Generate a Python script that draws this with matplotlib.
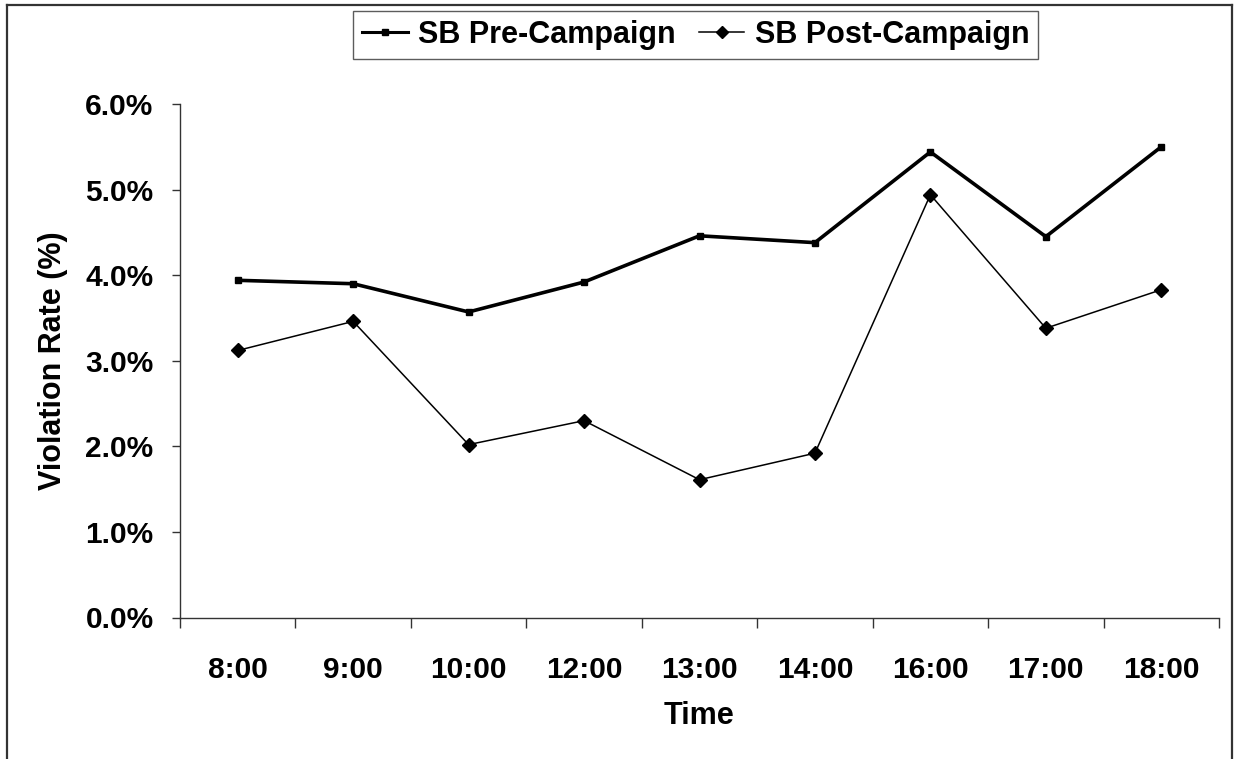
import matplotlib
matplotlib.use("Agg")
import matplotlib.pyplot as plt
from matplotlib.lines import Line2D
from matplotlib.ticker import FixedLocator, FuncFormatter

plt.rcParams['font.family'] = ['Liberation Sans', 'DejaVu Sans']
plt.rcParams['font.weight'] = 'bold'

# Data: seat-belt violation rate (%) by time of day
times = ["8:00", "9:00", "10:00", "12:00", "13:00", "14:00", "16:00", "17:00", "18:00"]
pre_campaign = [3.94, 3.90, 3.57, 3.92, 4.46, 4.38, 5.44, 4.45, 5.50]
post_campaign = [3.12, 3.46, 2.02, 2.30, 1.61, 1.92, 4.94, 3.38, 3.83]
series_names = ["SB Pre-Campaign", "SB Post-Campaign"]
y_ticks = [0, 1, 2, 3, 4, 5, 6]

W, H = 1235, 759
fig = plt.figure(figsize=(W / 100, H / 100), dpi=100)
fig.patch.set_facecolor('white')

ax = fig.add_axes([180 / W, 1 - 617.5 / H, (1219 - 180) / W, (617.5 - 104) / H])

x = list(range(len(times)))
ax.plot(x, pre_campaign, color='black', lw=2.6, marker='s', ms=4.8,
        markerfacecolor='black', markeredgecolor='black', solid_joinstyle='miter')
ax.plot(x, post_campaign, color='black', lw=1.1, marker='D', ms=7.5,
        markerfacecolor='black', markeredgecolor='black')

ax.set_xlim(-0.5, len(times) - 0.5)
ax.set_ylim(0, 6)

# category labels at centres, tick marks on the boundaries between categories
ax.xaxis.set_major_locator(FixedLocator(x))
ax.set_xticklabels(times, fontsize=21.5, fontweight='bold')
ax.xaxis.set_minor_locator(FixedLocator([i - 0.5 for i in range(len(times) + 1)]))
ax.tick_params(axis='x', which='major', length=0, pad=28)
ax.tick_params(axis='x', which='minor', length=7.5, width=1, direction='out', color='#333333')

ax.yaxis.set_major_locator(FixedLocator(y_ticks))
ax.yaxis.set_major_formatter(FuncFormatter(lambda v, p: f"{v:.1f}%"))
ax.tick_params(axis='y', length=6, width=1, direction='out', pad=13, labelsize=21.5, color='#333333')
for lbl in ax.get_yticklabels():
    lbl.set_fontweight('bold')

for side in ('top', 'right'):
    ax.spines[side].set_visible(False)
for side in ('left', 'bottom'):
    ax.spines[side].set_color('#333333')
    ax.spines[side].set_linewidth(1.0)

ax.set_xlabel("Time", fontsize=22, fontweight='bold')
ax.set_ylabel("Violation Rate (%)", fontsize=22, fontweight='bold')
ax.xaxis.set_label_coords(0.5, -(716 - 617.5) / (617.5 - 104), transform=ax.transAxes)
ax.xaxis.label.set_va('center')
ax.yaxis.set_label_coords(-(180 - 53) / (1219 - 180), 0.5)
ax.yaxis.label.set_va('center')

handles = [
    Line2D([], [], color='black', lw=2.2, marker='s', ms=4.2),
    Line2D([], [], color='black', lw=1.1, marker='D', ms=6.0),
]
leg = fig.legend(handles, series_names, loc='upper left',
                 bbox_to_anchor=(353 / W, 1 - 11 / H), ncol=2,
                 prop={'family': 'Liberation Sans', 'weight': 'bold', 'size': 22},
                 frameon=True, fancybox=False, shadow=False, borderaxespad=0,
                 handlelength=1.5, handletextpad=0.33, columnspacing=0.75,
                 borderpad=0.3)
leg.get_frame().set_edgecolor('#333333')
leg.get_frame().set_linewidth(1.0)

# outer chart border (left, top, right)
border_kw = dict(color='#333333', lw=1.6, transform=fig.transFigure)
fig.add_artist(Line2D([6.5 / W, 6.5 / W], [0, 1 - 5 / H], **border_kw))
fig.add_artist(Line2D([6.5 / W, 1232 / W], [1 - 5 / H, 1 - 5 / H], **border_kw))
fig.add_artist(Line2D([1232 / W, 1232 / W], [0, 1 - 5 / H], **border_kw))

fig.savefig("out.png", dpi=100, facecolor='white')
